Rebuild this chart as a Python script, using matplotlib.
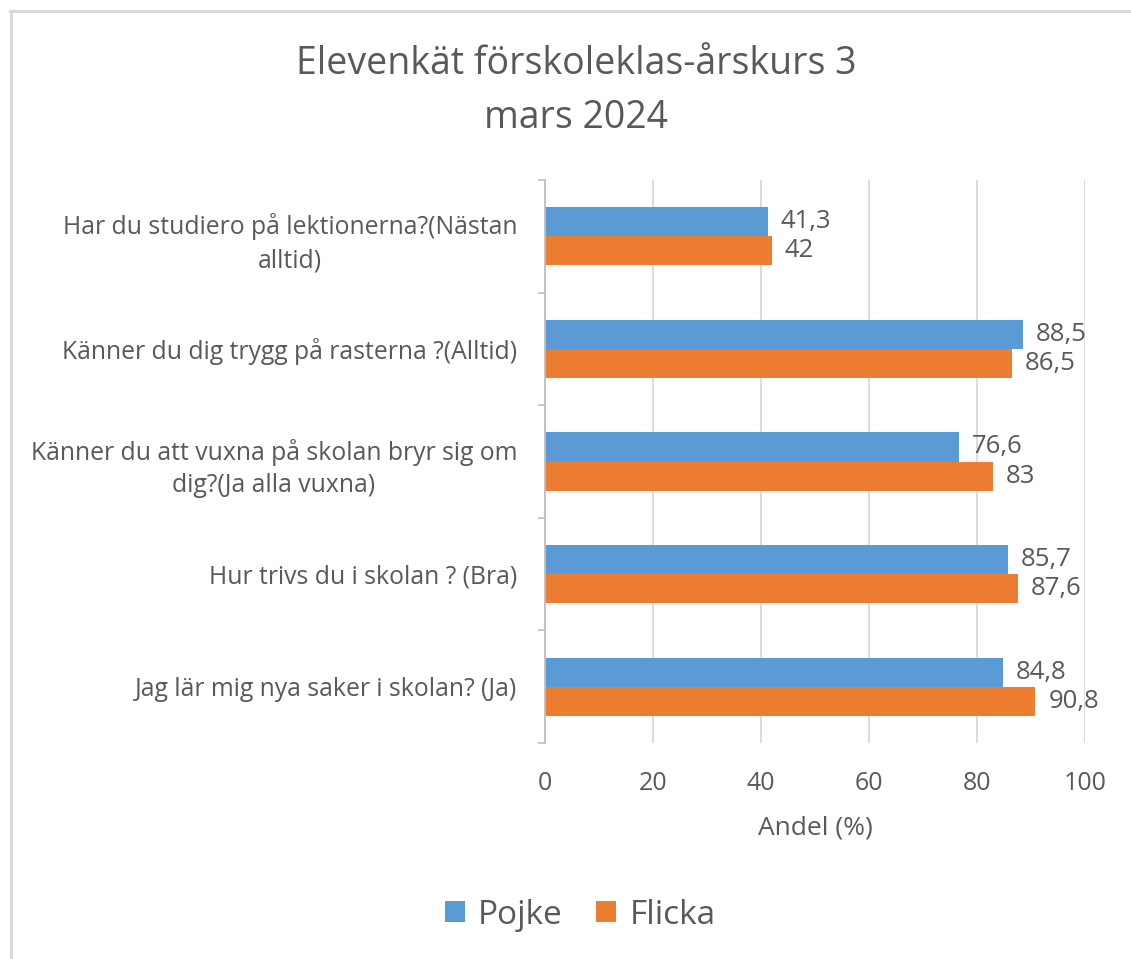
import matplotlib
matplotlib.use("Agg")
import matplotlib.pyplot as plt
from matplotlib.patches import Patch
from matplotlib.lines import Line2D
import numpy as np

plt.rcParams['font.family'] = ['Open Sans', 'DejaVu Sans']

categories = [
    "Har du studiero på lektionerna?(Nästan\nalltid)",
    "Känner du dig trygg på rasterna ?(Alltid)",
    "Känner du att vuxna på skolan bryr sig om\ndig?(Ja alla vuxna)",
    "Hur trivs du i skolan ? (Bra)",
    "Jag lär mig nya saker i skolan? (Ja)",
]
pojke = [41.3, 88.5, 76.6, 85.7, 84.8]
flicka = [42, 86.5, 83, 87.6, 90.8]
pojke_labels = ["41,3", "88,5", "76,6", "85,7", "84,8"]
flicka_labels = ["42", "86,5", "83", "87,6", "90,8"]
xticks = [0, 20, 40, 60, 80, 100]

TXT = "#595959"
BLUE = "#5B9BD5"
ORANGE = "#ED7D31"
GRID = "#D9D9D9"

W, H = 1131, 959
fig = plt.figure(figsize=(W / 100, H / 100), dpi=100)

# outer chart border (top & left visible)
fig.add_artist(Line2D([10 / W, 1.0], [1 - 10.5 / H, 1 - 10.5 / H], color="#D9D9D9", lw=2.2))
fig.add_artist(Line2D([10.5 / W, 10.5 / W], [0, 1 - 10.5 / H], color="#D9D9D9", lw=2.2))

ax = fig.add_axes([545 / W, 1 - 743 / H, (1085 - 545) / W, (743 - 180) / H])

y = np.arange(len(categories))
h = 0.258
ax.barh(y - h / 2, pojke, height=h, color=BLUE, label="Pojke", zorder=3)
ax.barh(y + h / 2, flicka, height=h, color=ORANGE, label="Flicka", zorder=3)

for i in range(len(categories)):
    ax.text(pojke[i] + 2.4, y[i] - h / 2, pojke_labels[i], va="center", ha="left",
            fontsize=18.5, color=TXT, zorder=4)
    ax.text(flicka[i] + 2.4, y[i] + h / 2, flicka_labels[i], va="center", ha="left",
            fontsize=18.5, color=TXT, zorder=4)

ax.set_xlim(0, 100)
ax.set_ylim(len(categories) - 0.5, -0.5)
ax.set_xticks(xticks)
ax.set_xticklabels([str(v) for v in xticks], fontsize=18, color=TXT)
ax.tick_params(axis="x", length=0, pad=20)

ax.set_yticks(np.arange(-0.5, len(categories), 1.0))
ax.set_yticklabels([])
ax.tick_params(axis="y", which="major", length=5, color="#BFBFBF", width=1.2)
ax.set_yticks(y, minor=True)
ax.set_yticklabels(categories, minor=True, fontsize=17.8, color=TXT,
                   multialignment="center", linespacing=1.42)
ax.tick_params(axis="y", which="minor", length=0, pad=20)

ax.xaxis.grid(True, color=GRID, lw=1.3, zorder=0)
ax.set_axisbelow(True)
for s in ["top", "right", "bottom"]:
    ax.spines[s].set_visible(False)
ax.spines["left"].set_color("#BFBFBF")
ax.spines["left"].set_linewidth(1.3)
ax.spines["left"].set_zorder(5)

ax.set_xlabel("Andel (%)", fontsize=19, color=TXT, labelpad=14)

fig.text(576 / W, 1 - 91 / H, "Elevenkät förskoleklas-årskurs 3\nmars 2024", ha="center",
         va="center", fontsize=27, color=TXT, linespacing=1.57)

handles = [Patch(facecolor=BLUE), Patch(facecolor=ORANGE)]
fig.legend(handles, ["Pojke", "Flicka"], loc="center", bbox_to_anchor=(580 / W, 1 - 915 / H),
           ncol=2, frameon=False, fontsize=24, labelcolor=TXT, handlelength=0.6,
           handleheight=0.6, handletextpad=0.4, columnspacing=1.0)

fig.savefig("out.png", dpi=100, facecolor="white")
